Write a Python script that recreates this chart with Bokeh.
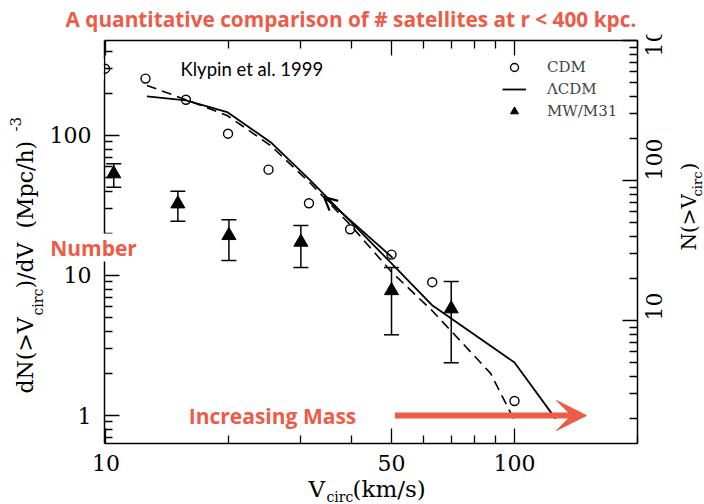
import math
from bokeh.plotting import figure
from bokeh.models import (Range1d, LogAxis, LogScale, FixedTicker, NumeralTickFormatter,
                          ColumnDataSource, Whisker, TeeHead, Label, Arrow, VeeHead,
                          OpenHead, Legend, LegendItem, BoxAnnotation)
from bokeh.embed import file_html
from bokeh.resources import INLINE

# ---------------- data ----------------
cdm_vcirc = [9.95, 12.5, 15.7, 19.9, 25.0, 31.4, 39.6, 50.0, 62.9, 100.0]
cdm_n = [300, 255, 180, 103, 57, 32.8, 21.4, 14.1, 8.96, 1.27]

lcdm_vcirc = [12.6, 15.7, 19.8, 25.3, 31.6, 50.0, 63.0, 100.0, 126.0]
lcdm_n = [190, 178, 147, 89.6, 48.0, 12.2, 6.1, 2.39, 0.95]

dash_vcirc = [12.6, 15.7, 19.8, 25.3, 31.7, 39.8, 50.0, 62.9, 87.4, 100.0]
dash_n = [228, 180, 139, 84.8, 45.4, 22.7, 10.6, 5.6, 2.0, 0.92]

mw_vcirc = [10.45, 15.0, 20.0, 30.0, 50.0, 70.0]
mw_n = [53.3, 32.5, 19.3, 17.3, 7.8, 5.78]
mw_upper = [62.8, 40.0, 25.0, 22.8, 11.4, 9.06]
mw_lower = [42.7, 24.4, 12.8, 11.4, 3.77, 2.38]

x_major = [10, 50, 100]
x_minor = [20, 30, 40, 60, 70, 80, 90, 200]
y_major = [1, 10, 100]
y_minor = [0.7, 0.8, 0.9, 2, 3, 4, 5, 6, 7, 8, 9, 20, 30, 40, 50, 60, 70, 80, 90, 200, 300, 400]
r_major = [10, 100, 1000]
r_minor = [2, 3, 4, 5, 6, 7, 8, 9, 20, 30, 40, 50, 60, 70, 80, 90, 200, 300, 400, 500, 600, 700, 800, 900]

x_lim = (9.92, 200.0)
y_lim = (0.631, 477.0)
right_factor = 2.1          # N(>Vcirc) = factor * dN/dV

# annotation arrows (data coordinates)
shift_arrow = dict(x0=50.3, y0=13.4, x1=34.2, y1=36.3)
mass_arrow = dict(x0=51.0, y0=1.0, x1=150.0, y1=1.0)

ORANGE = "#EE5B47"
SERIF = "DejaVu Serif"
SANS = "Lato"
BOLDSANS = "Open Sans"

# ---------------- geometry ----------------
W, H = 704, 504
BOX_L, BOX_R, BOX_T, BOX_B = 104, 637, 40, 443   # the drawn axes box, canvas px

# the Bokeh frame covers the whole canvas; axes sit at fixed locations on the box
lx0, lx1 = math.log10(x_lim[0]), math.log10(x_lim[1])
ppx = (BOX_R - BOX_L) / (lx1 - lx0)
x_full = (10 ** (lx0 - BOX_L / ppx), 10 ** (lx1 + (W - BOX_R) / ppx))
ly0, ly1 = math.log10(y_lim[0]), math.log10(y_lim[1])
ppy = (BOX_B - BOX_T) / (ly1 - ly0)
y_full = (10 ** (ly0 - (H - BOX_B) / ppy), 10 ** (ly1 + BOX_T / ppy))

p = figure(width=W, height=H, x_axis_type="log", y_axis_type="log",
           x_range=Range1d(*x_full), y_range=Range1d(*y_full),
           output_backend="svg", toolbar_location=None,
           min_border_left=0, min_border_right=0, min_border_top=0, min_border_bottom=0)
p.title.visible = False
p.grid.visible = False
p.outline_line_color = None
p.background_fill_color = "white"
p.border_fill_color = "white"

p.extra_y_ranges = {"right": Range1d(y_full[0] * right_factor, y_full[1] * right_factor)}
p.extra_y_scales = {"right": LogScale()}


def style_axis(ax):
    ax.axis_line_color = "black"
    ax.axis_line_width = 1.5
    ax.major_tick_line_width = 1.3
    ax.minor_tick_line_width = 1.3
    ax.major_tick_in = 15
    ax.major_tick_out = 0
    ax.minor_tick_in = 8
    ax.minor_tick_out = 0
    ax.axis_label = None
    ax.formatter = NumeralTickFormatter(format="0")
    ax.major_label_text_font = SERIF
    ax.major_label_text_font_size = "22px"
    ax.major_label_text_color = "black"


xb = p.xaxis[0]
xb.ticker = FixedTicker(ticks=x_major, minor_ticks=x_minor)
style_axis(xb)
xb.fixed_location = y_lim[0]
xb.bounds = x_lim
xb.major_label_standoff = 11

yl = p.yaxis[0]
yl.ticker = FixedTicker(ticks=y_major, minor_ticks=y_minor)
style_axis(yl)
yl.fixed_location = x_lim[0]
yl.bounds = y_lim
yl.major_label_standoff = 13

xt = LogAxis(ticker=FixedTicker(ticks=x_major, minor_ticks=x_minor))
style_axis(xt)
xt.major_label_overrides = {t: "" for t in x_major}
xt.fixed_location = y_lim[1]
xt.bounds = x_lim
p.add_layout(xt, "above")

yr = LogAxis(y_range_name="right", ticker=FixedTicker(ticks=r_major, minor_ticks=r_minor))
style_axis(yr)
yr.fixed_location = x_lim[1]
yr.bounds = (y_lim[0] * right_factor, y_lim[1] * right_factor)
yr.major_label_orientation = math.pi / 2
yr.major_label_standoff = 17
p.add_layout(yr, "right")

# ---------------- data glyphs ----------------
r_dash = p.line(dash_vcirc, dash_n, line_color="black", line_width=1.6, line_dash="10 6")
r_lcdm = p.line(lcdm_vcirc, lcdm_n, line_color="black", line_width=1.8)
r_cdm = p.scatter(cdm_vcirc, cdm_n, marker="circle", size=9, fill_alpha=0,
                  line_color="black", line_width=1.4)

src_mw = ColumnDataSource(dict(x=mw_vcirc, y=mw_n, upper=mw_upper, lower=mw_lower))
p.add_layout(Whisker(source=src_mw, base="x", upper="upper", lower="lower",
                     dimension="height", line_color="black", line_width=1.5,
                     upper_head=TeeHead(size=15, line_width=1.5, line_color="black"),
                     lower_head=TeeHead(size=15, line_width=1.5, line_color="black")))
r_mw = p.scatter("x", "y", source=src_mw, marker="triangle", size=14, color="black")

# arrows
p.add_layout(Arrow(x_start=shift_arrow["x0"], y_start=shift_arrow["y0"],
                   x_end=shift_arrow["x1"], y_end=shift_arrow["y1"],
                   line_color="black", line_width=1.8,
                   end=OpenHead(size=13, line_width=2.2, line_color="black")))
p.add_layout(Arrow(x_start=mass_arrow["x0"], y_start=mass_arrow["y0"],
                   x_end=mass_arrow["x1"], y_end=mass_arrow["y1"],
                   line_color=ORANGE, line_width=6,
                   end=VeeHead(size=30, fill_color=ORANGE, line_color=ORANGE)))

# legend
legend = Legend(items=[LegendItem(label="CDM", renderers=[r_cdm]),
                       LegendItem(label="\u039bCDM", renderers=[r_lcdm]),
                       LegendItem(label="MW/M31", renderers=[r_mw])],
                location=(502, H - 121), orientation="vertical",
                glyph_width=24, glyph_height=20, spacing=2, padding=0, margin=0,
                label_standoff=21, label_text_font=SERIF, label_text_font_size="15px",
                background_fill_alpha=0, border_line_color=None)
p.add_layout(legend)


# white masks: what lies outside the axes box is hidden in the reference
def mask(x0, x1, y0, y1):
    p.add_layout(BoxAnnotation(left=x0, right=x1, top=H - y0, bottom=H - y1,
                               left_units="screen", right_units="screen",
                               top_units="screen", bottom_units="screen",
                               fill_color="white", fill_alpha=1.0, line_color=None))


mask(88, 103.2, 58, 80)    # half of the CDM circle sitting on the left axis
mask(600, 704, 0, 34)      # slide title banner hides the top of the right label


# ---------------- text labels (canvas pixel positions) ----------------
def lab(text, px, py, size, font=SERIF, color="black", bold=False, angle=0.0,
        align="left", bg=None):
    p.add_layout(Label(x=px, y=H - py, x_units="screen", y_units="screen",
                       text=text, text_font=font, text_font_size=f"{size}px",
                       text_color=color, text_font_style="bold" if bold else "normal",
                       angle=angle, text_align=align, text_baseline="middle",
                       background_fill_color=bg, level="overlay"))


lab("A quantitative comparison of # satellites at r < 400 kpc.", 65, 18, 20.8,
    font=BOLDSANS, color=ORANGE, bold=True, align="left")
lab("Klypin et al. 1999", 180, 68, 18.5, font=SANS)
lab("Number", 93, 247, 21, font=BOLDSANS, color=ORANGE, bold=True, align="center", bg="white")
lab("Increasing Mass", 272, 415, 21, font=BOLDSANS, color=ORANGE, bold=True, align="center")

# x-axis title: V_circ(km/s)
lab("V", 308, 488, 23)
lab("circ", 326, 496, 14)
lab("(km/s)", 352, 488, 23)

# left axis title: dN(>V_circ)/dV (Mpc/h)^-3
up = math.pi / 2
lab("dN(>V", 25, 393, 22, angle=up)
lab("circ", 37, 315, 14, angle=up)
lab(")/dV\u00a0\u00a0(Mpc/h)", 25, 288, 22, angle=up)
lab("-3", 15, 131, 15, angle=up)

# right axis title: N(>V_circ)
lab("N(>V", 688, 250, 20, angle=up)
lab("circ", 697, 196, 13, angle=up)
lab(")", 688, 170, 20, angle=up)

open("out.html", "w").write(file_html(p, INLINE))
